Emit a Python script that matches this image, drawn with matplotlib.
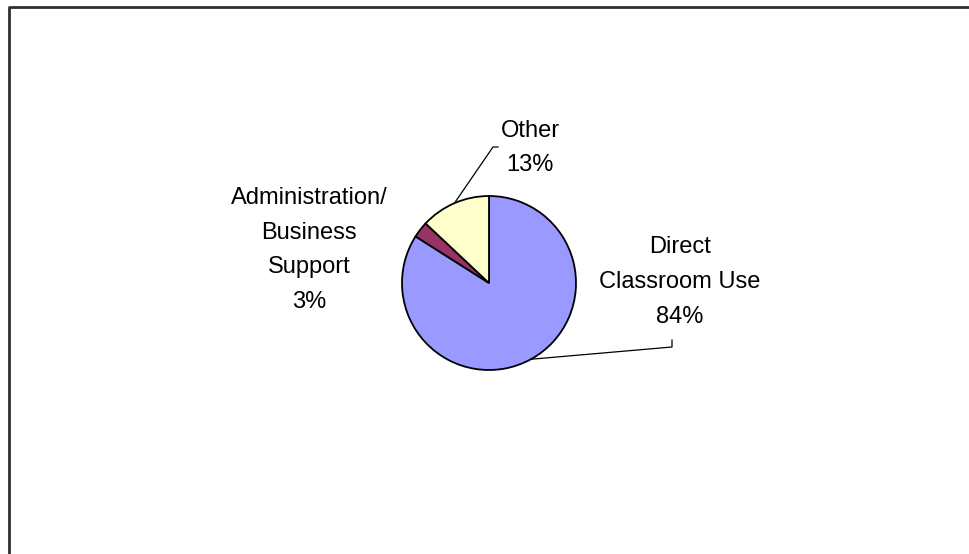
import numpy as np
import matplotlib
matplotlib.use("Agg")
import matplotlib.pyplot as plt

# Shares of spending by use
categories = ["Direct\nClassroom Use", "Administration/\nBusiness\nSupport", "Other"]
shares = [84, 3, 13]
colors = ["#9999FF", "#993366", "#FFFFCC"]

W, H = 970, 554
fig = plt.figure(figsize=(W / 100, H / 100), dpi=100)
fig.patch.set_facecolor("white")
ax = fig.add_axes([0, 0, 1, 1])

cx, cy, r = 489, H - 283, 87
wedges, _ = ax.pie(shares, colors=colors, startangle=90, counterclock=False,
                   center=(cx, cy), radius=r, frame=True,
                   wedgeprops=dict(edgecolor="black", linewidth=1.3))
ax.set_xlim(0, W)
ax.set_ylim(0, H)
ax.set_aspect("auto")
ax.axis("off")

font = dict(family=["Liberation Sans", "DejaVu Sans"], fontsize=17,
            ha="center", va="center", linespacing=1.74, color="black")

# label block centres (pixel coordinates, y measured from top)
label_pos = [(680, 282), (309, 250), (530, 148)]
for name, val, (lx, ly) in zip(categories, shares, label_pos):
    ax.text(lx, H - ly, f"{name}\n{val}%", **font)


def edge_point(w):
    mid = np.deg2rad((w.theta1 + w.theta2) / 2)
    return cx + r * np.cos(mid), cy + r * np.sin(mid)

# leader lines
x0, y0 = edge_point(wedges[0])
ax.plot([x0, 672, 672], [y0, H - 347, H - 340], color="black", lw=0.9)
x2, y2 = edge_point(wedges[2])
ax.plot([x2, 493, 498], [y2, H - 147, H - 147], color="black", lw=0.9)

# chart area border
ax.plot([9, 9, W + 5], [-5, H - 7, H - 7], color="#303030", lw=2.0,
        solid_capstyle="butt", clip_on=False)

fig.savefig("out.png", dpi=100)
